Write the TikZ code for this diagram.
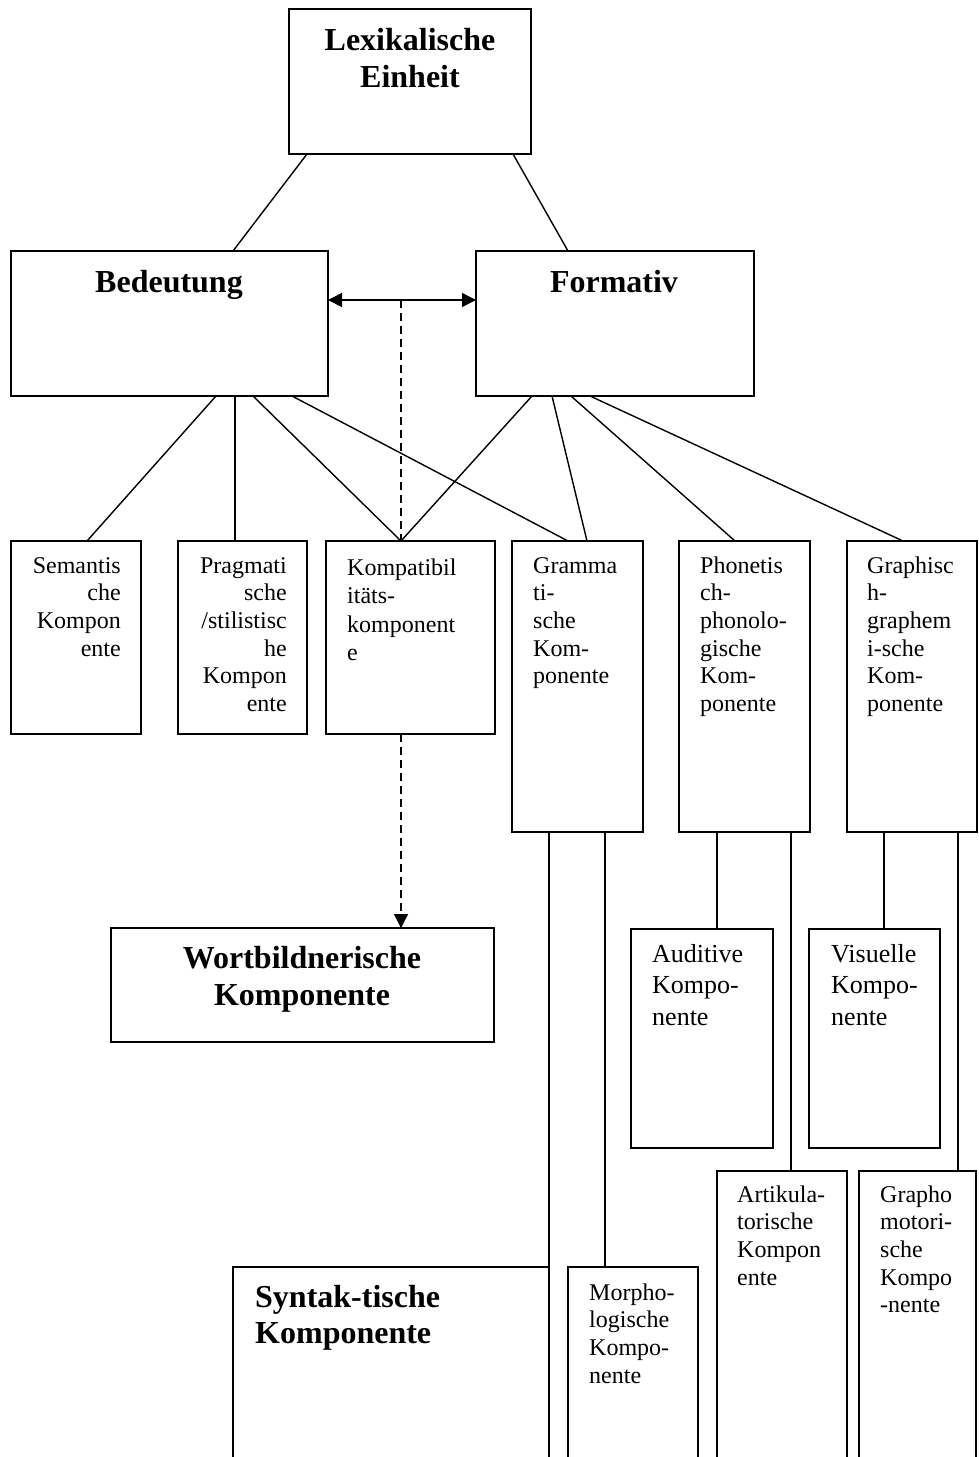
\documentclass[tikz,border=0pt]{standalone}
\usepackage{fontspec}
\setmainfont{Liberation Serif}
\usetikzlibrary{arrows.meta,calc}
\begin{document}
\begin{tikzpicture}[x=1pt,y=-1pt,
  box/.style={draw, line width=1.6pt, inner sep=0pt, outer sep=0pt, anchor=north west},
  conn/.style={line width=1.4pt},
  dashconn/.style={line width=1.4pt, dash pattern=on 8pt off 5pt},
  small/.style={inner sep=0pt, font=\fontsize{24}{27.7}\selectfont, text width=125pt, align=left, anchor=base west},
  smallr/.style={small, align=right, anchor=base east},
  mid/.style={inner sep=0pt, font=\fontsize{26}{31.5}\selectfont, text width=125pt, align=left, anchor=base west},
  big/.style={inner sep=0pt, font=\fontsize{32}{37}\selectfont\bfseries, align=center, anchor=base},
  tip/.style={-{Triangle[length=14pt,width=14pt]}}
]
\useasboundingbox (0,0) rectangle (979,1457);
\fill[white] (0,0) rectangle (979,1457);
\clip (0,0) rectangle (979,1457);

% boxes
\node[box, minimum width=242pt, minimum height=145pt] (lex) at (289,9) {};
\node[box, minimum width=317pt, minimum height=145pt] (bed) at (11,251) {};
\node[box, minimum width=278pt, minimum height=145pt] (form) at (476,251) {};
\node[box, minimum width=130pt, minimum height=193pt] (sem) at (11,541) {};
\node[box, minimum width=129pt, minimum height=193pt] (prag) at (178,541) {};
\node[box, minimum width=169pt, minimum height=193pt] (komp) at (326,541) {};
\node[box, minimum width=131pt, minimum height=291pt] (gram) at (512,541) {};
\node[box, minimum width=131pt, minimum height=291pt] (phon) at (679,541) {};
\node[box, minimum width=130pt, minimum height=291pt] (graph) at (847,541) {};
\node[box, minimum width=383pt, minimum height=114pt] (wort) at (111,928) {};
\node[box, minimum width=142pt, minimum height=219pt] (aud) at (631,929) {};
\node[box, minimum width=131pt, minimum height=219pt] (vis) at (809,929) {};
\node[box, minimum width=130pt, minimum height=340pt] (art) at (717,1171) {};
\node[box, minimum width=117pt, minimum height=340pt] (grmot) at (859,1171) {};
\node[box, minimum width=316pt, minimum height=250pt] (syn) at (233,1267) {};
\node[box, minimum width=130pt, minimum height=250pt] (morph) at (568,1267) {};

% texts
\node[big, text width=240pt] (lext) at (410,50) {Lexikalische\\Einheit};
\node[big] (bedt) at (169,292) {Bedeutung};
\node[big] (formt) at (614,292) {Formativ};
\node[big, text width=380pt] (wortt) at (302,968) {Wortbildnerische\\Komponente};
\node[big, text width=290pt, align=left, anchor=base west, font=\fontsize{32}{36}\selectfont\bfseries] (synt) at (255,1307) {Syntak-tische\\Komponente};

\node[smallr] (semt) at (121,573) {Semantis\\che\\Kompon\\ente};
\node[smallr] (pragt) at (287,573) {Pragmati\\sche\\/stilistisc\\he\\Kompon\\ente};
\node[small, font=\fontsize{24}{28.6}\selectfont, text width=145pt] (kompt) at (347,575) {Kompatibil\\itäts-\\komponent\\e};
\node[small] (gramt) at (533,573) {Gramma\\ti-\\sche\\Kom-\\ponente};
\node[small] (phont) at (700,573) {Phonetis\\ch-\\phonolo-\\gische\\Kom-\\ponente};
\node[small] (grapht) at (867,573) {Graphisc\\h-\\graphem\\i-sche\\Kom-\\ponente};
\node[mid] (audt) at (652,962) {Auditive\\Kompo-\\nente};
\node[mid] (vist) at (831,962) {Visuelle\\Kompo-\\nente};
\node[small] (artt) at (737,1202) {Artikula-\\torische\\Kompon\\ente};
\node[small] (grmott) at (880,1202) {Grapho\\motori-\\sche\\Kompo\\-nente};
\node[small] (morpht) at (589,1300) {Morpho-\\logische\\Kompo-\\nente};

% connectors from top
\draw[conn] ($(lex.south west)+(18,0)$) -- ($(bed.north west)+(222,0)$);
\draw[conn] ($(lex.south west)+(224,0)$) -- ($(form.north west)+(92,0)$);

% double arrow and dashed
\coordinate (m) at ($(bed.north east)+(73,49)$);
\draw[line width=1.6pt, {Triangle[length=14pt,width=14pt]}-{Triangle[length=14pt,width=14pt]}]
  ($(bed.north east)+(0,49)$) -- ($(form.north west)+(0,49)$);
\draw[dashconn] (m) -- ($(komp.north west)+(75,0)$);
\draw[dashconn, tip] ($(komp.south west)+(75,0)$) -- ($(wort.north west)+(290,0)$);

% from Bedeutung
\draw[conn] ($(bed.south west)+(205,0)$) -- ($(sem.north west)+(76,0)$);
\draw[conn] ($(bed.south west)+(224,0)$) -- ($(prag.north west)+(57,0)$);
\draw[conn] ($(bed.south west)+(242,0)$) -- ($(komp.north west)+(75,0)$);
\draw[conn] ($(bed.south west)+(281,0)$) -- ($(gram.north west)+(56,0)$);

% from Formativ
\draw[conn] ($(form.south west)+(56,0)$) -- ($(komp.north west)+(75,0)$);
\draw[conn] ($(form.south west)+(76,0)$) -- ($(gram.north west)+(75,0)$);
\draw[conn] ($(form.south west)+(95,0)$) -- ($(phon.north west)+(56,0)$);
\draw[conn] ($(form.south west)+(114,0)$) -- ($(graph.north west)+(56,0)$);

% lower verticals
\draw[conn] ($(gram.south west)+(37,0)$) -- (syn.north east);
\draw[conn] ($(gram.south west)+(93,0)$) -- ($(morph.north west)+(37,0)$);
\draw[conn] ($(phon.south west)+(38,0)$) -- ($(aud.north west)+(86,0)$);
\draw[conn] ($(phon.south west)+(112,0)$) -- ($(art.north west)+(74,0)$);
\draw[conn] ($(graph.south west)+(37,0)$) -- ($(vis.north west)+(75,0)$);
\draw[conn] ($(graph.south west)+(111,0)$) -- ($(grmot.north west)+(99,0)$);
\end{tikzpicture}
\end{document}
